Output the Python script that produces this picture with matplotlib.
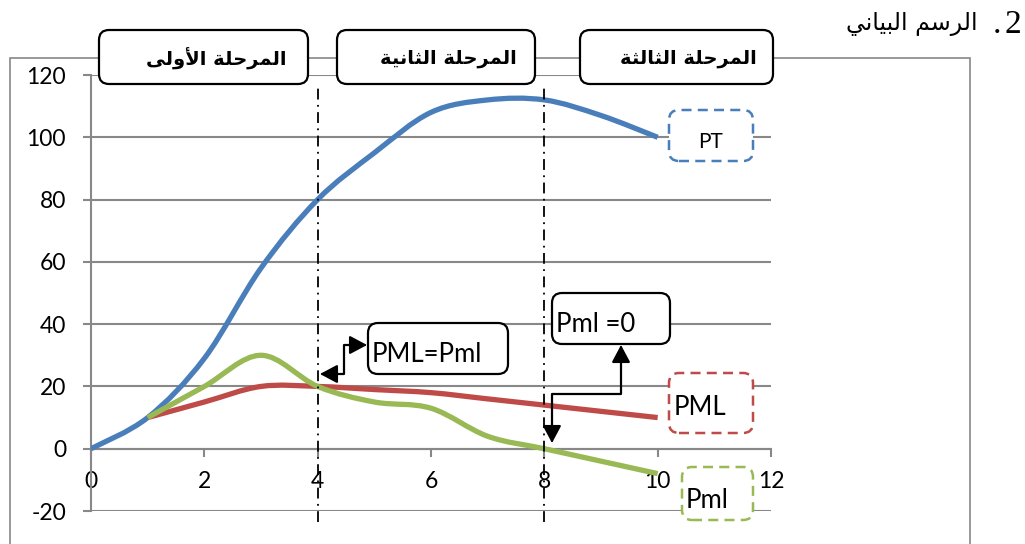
import matplotlib
matplotlib.use('Agg')
import matplotlib.pyplot as plt
from matplotlib.path import Path
from matplotlib.patches import PathPatch, FancyBboxPatch, Rectangle, FancyArrowPatch
from matplotlib.transforms import IdentityTransform
import numpy as np

plt.rcParams['axes.unicode_minus'] = False

# ---------------- data ----------------
x_pt = [0, 1, 2, 3, 4, 5, 6, 7, 8, 9, 10]
pt = [0, 10, 29, 58, 80, 95, 108, 112, 112, 107, 100]
x_pm = [1, 2, 3, 4, 5, 6, 7, 8, 9, 10]
pml_big = [10, 15, 20, 20, 19, 18, 16, 14, 12, 10]
pml_small = [10, 20, 30, 20, 15, 13, 4, 0, -4, -8]
xticks = [0, 2, 4, 6, 8, 10, 12]
yticks = [-20, 0, 20, 40, 60, 80, 100, 120]
stage_labels = ['المرحلة الأولى', 'المرحلة الثانية', 'المرحلة الثالثة']
stage_bounds = [4, 8]
title_ar = 'الرسم البياني'
title_num = '2'
series_names = ['PT', 'PML', 'Pml']
note1 = 'PML=Pml'
note2 = 'Pml =0'

BLUE = '#4A7EBB'
RED = '#BE4B48'
GREEN = '#98B954'
GRAY = '#888888'

# ------------- minimal Arabic shaping -------------
FORMS = {  # isolated, final, initial, medial
    'ا': (0xFE8D, 0xFE8E, None, None),
    'أ': (0xFE83, 0xFE84, None, None),
    'ب': (0xFE8F, 0xFE90, 0xFE91, 0xFE92),
    'ة': (0xFE93, 0xFE94, None, None),
    'ث': (0xFE99, 0xFE9A, 0xFE9B, 0xFE9C),
    'ح': (0xFEA1, 0xFEA2, 0xFEA3, 0xFEA4),
    'ر': (0xFEAD, 0xFEAE, None, None),
    'س': (0xFEB1, 0xFEB2, 0xFEB3, 0xFEB4),
    'ل': (0xFEDD, 0xFEDE, 0xFEDF, 0xFEE0),
    'م': (0xFEE1, 0xFEE2, 0xFEE3, 0xFEE4),
    'ن': (0xFEE5, 0xFEE6, 0xFEE7, 0xFEE8),
    'و': (0xFEED, 0xFEEE, None, None),
    'ى': (0xFEEF, 0xFEF0, None, None),
    'ي': (0xFEF1, 0xFEF2, 0xFEF3, 0xFEF4),
}
LAM_ALEF = {'ا': (0xFEFB, 0xFEFC), 'أ': (0xFEF7, 0xFEF8)}


def shape(text):
    tokens = []
    i = 0
    while i < len(text):
        c = text[i]
        if c == 'ل' and i + 1 < len(text) and text[i + 1] in LAM_ALEF:
            tokens.append(('LA', text[i + 1]))
            i += 2
        else:
            tokens.append(('C', c))
            i += 1

    def joins_left(t):
        if t[0] == 'LA':
            return False
        f = FORMS.get(t[1])
        return f is not None and f[2] is not None

    def is_letter(t):
        return t[0] == 'LA' or t[1] in FORMS

    out = []
    for k, t in enumerate(tokens):
        prev = tokens[k - 1] if k > 0 else None
        nxt = tokens[k + 1] if k + 1 < len(tokens) else None
        jp = prev is not None and joins_left(prev)
        jn = nxt is not None and is_letter(nxt) and joins_left(t)
        if t[0] == 'LA':
            out.append(chr(LAM_ALEF[t[1]][1 if jp else 0]))
            continue
        f = FORMS.get(t[1])
        if f is None:
            out.append(t[1])
            continue
        if jp and jn:
            ch = f[3]
        elif jp:
            ch = f[1]
        elif jn:
            ch = f[2]
        else:
            ch = f[0]
        out.append(chr(ch))
    return ''.join(out)[::-1]


def smooth_path(xs, ys):
    pts = np.column_stack([xs, ys]).astype(float)
    n = len(pts)
    verts = [pts[0]]
    codes = [Path.MOVETO]
    for i in range(n - 1):
        p0 = pts[i - 1] if i > 0 else pts[i]
        p1 = pts[i]
        p2 = pts[i + 1]
        p3 = pts[i + 2] if i + 2 < n else pts[i + 1]
        c1 = p1 + (p2 - p0) / 6.0
        c2 = p2 - (p3 - p1) / 6.0
        verts += [c1, c2, p2]
        codes += [Path.CURVE4] * 3
    return Path(verts, codes)


W, H = 1025, 544
fig = plt.figure(figsize=(W / 100, H / 100), dpi=100)
fig.patch.set_facecolor('white')
ID = IdentityTransform()


def P(x, y):
    return (x, H - y)


# outer frame
fig.patches.append(Rectangle(P(10, 548), 960, 490, transform=ID, fill=False,
                             edgecolor=GRAY, lw=1.2, zorder=0))

ax = fig.add_axes([91 / W, 1 - 511 / H, 680 / W, 436 / H])
ax.set_facecolor('none')
ax.set_xlim(0, 12)
ax.set_ylim(-20, 120)
ax.set_xticks(xticks)
ax.set_yticks(yticks)
for s in ['top', 'right']:
    ax.spines[s].set_visible(False)
ax.spines['bottom'].set_position(('data', 0))
ax.spines['bottom'].set_color(GRAY)
ax.spines['bottom'].set_linewidth(1.5)
ax.spines['left'].set_color(GRAY)
ax.spines['left'].set_linewidth(1.5)
ax.yaxis.grid(True, color=GRAY, lw=1.5)
ax.set_axisbelow(True)
ax.tick_params(axis='both', direction='out', length=6, width=1.5, color=GRAY,
               labelsize=16.5, labelcolor='black')
ax.tick_params(axis='x', pad=10)
ax.tick_params(axis='y', pad=12)
for lab in ax.get_xticklabels() + ax.get_yticklabels():
    lab.set_fontfamily('Lato')

for xs, ys, col in [(x_pt, pt, BLUE), (x_pm, pml_big, RED), (x_pm, pml_small, GREEN)]:
    ax.add_patch(PathPatch(smooth_path(xs, ys), fill=False, edgecolor=col, lw=3.8,
                           capstyle='butt', zorder=3))

for xb in stage_bounds:
    ax.plot([xb, xb], [-23.5, 117], color='black', lw=1.3, ls=(0, (6, 3, 1, 3)),
            clip_on=False, zorder=4)

# stage boxes
stage_boxes = [(99, 30, 308, 84), (337, 30, 535, 84), (580, 30, 773, 84)]
for (x0, y0, x1, y1), lab in zip(stage_boxes, stage_labels):
    fig.patches.append(FancyBboxPatch(P(x0, y1), x1 - x0, y1 - y0,
                                      boxstyle='round,pad=0,rounding_size=10',
                                      transform=ID, facecolor='white', edgecolor='black',
                                      lw=1.6, zorder=5))
    fig.text((x0 + x1) / 2 / W + 0.012, 1 - 59 / H, shape(lab), ha='center', va='center',
             family='DejaVu Sans', weight='bold', fontsize=14, zorder=6)

# title
fig.text(1021 / W, 1 - 33 / H, title_num, ha='right', va='baseline',
         family='Liberation Serif', fontsize=24)
fig.text(1001 / W, 1 - 33 / H, '.', ha='right', va='baseline',
         family='Liberation Serif', fontsize=24)
fig.text(978 / W, 1 - 30 / H, shape(title_ar), ha='right', va='baseline',
         family='DejaVu Sans', fontsize=17)

# dashed series label boxes
label_boxes = [((669, 110, 753, 161), BLUE, (711, 148), 15, 'center'),
               ((669, 373, 753, 433), RED, (674, 415), 18.5, 'left'),
               ((682, 467, 753, 520), GREEN, (686, 508), 18.5, 'left')]
for (bx, col, (tx, ty), fs, ha), name in zip(label_boxes, series_names):
    x0, y0, x1, y1 = bx
    fig.patches.append(FancyBboxPatch(P(x0, y1), x1 - x0, y1 - y0,
                                      boxstyle='round,pad=0,rounding_size=10',
                                      transform=ID, facecolor='white', edgecolor=col,
                                      lw=1.8, ls=(0, (4, 2.5)), zorder=5))
    fig.text(tx / W, 1 - ty / H, name, ha=ha, va='baseline', family='Lato',
             fontsize=fs, zorder=6)

# annotation boxes
for (x0, y0, x1, y1), (tx, ty), txt in [((368, 323, 508, 374), (372, 362), note1),
                                         ((552, 293, 670, 344), (556, 332), note2)]:
    fig.patches.append(FancyBboxPatch(P(x0, y1), x1 - x0, y1 - y0,
                                      boxstyle='round,pad=0,rounding_size=10',
                                      transform=ID, facecolor='white', edgecolor='black',
                                      lw=1.6, zorder=5))
    fig.text(tx / W, 1 - ty / H, txt, ha='left', va='baseline', family='Lato',
             fontsize=18.5, zorder=6)

# elbow arrows
for pts in [[(320, 374), (344, 374), (344, 345), (367, 345)],
            [(621, 345), (621, 394), (552, 394), (552, 443)]]:
    verts = [P(*p) for p in pts]
    path = Path(verts, [Path.MOVETO] + [Path.LINETO] * (len(verts) - 1))
    fig.patches.append(FancyArrowPatch(path=path, transform=ID,
                                       arrowstyle='<|-|>,head_length=0.75,head_width=0.4',
                                       mutation_scale=14, color='black', lw=1.6,
                                       shrinkA=0, shrinkB=0, zorder=7))

fig.savefig('out.png', dpi=100)
